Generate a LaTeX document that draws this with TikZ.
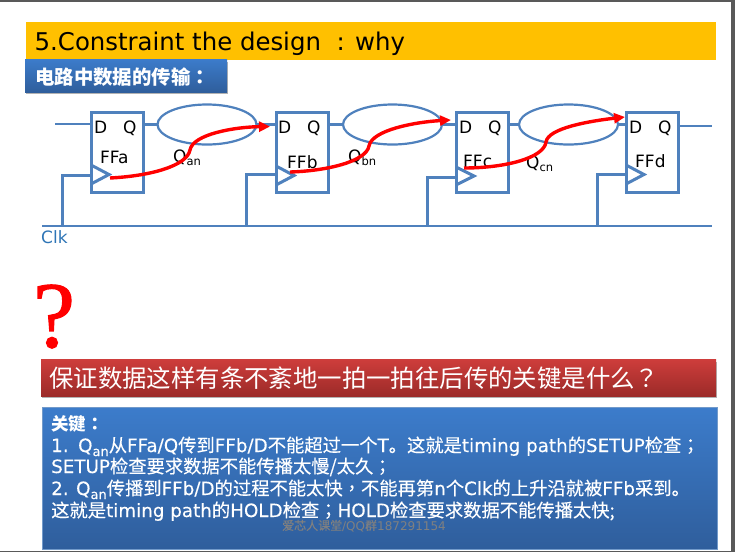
\documentclass[tikz,border=0pt]{standalone}
\usepackage{fontspec}
\setmainfont{DejaVu Sans}
\newfontfamily\cjkf{Noto Sans CJK SC}
\newfontfamily\cjkt{Noto Sans CJK TC}
\newfontfamily\cjkm[FakeBold=0.25]{Noto Sans CJK SC}
\newfontfamily\cjkmt[FakeBold=0.25]{Noto Sans CJK TC}
\newfontfamily\dvm[FakeBold=0.2]{DejaVu Sans}
\newfontfamily\serq[FakeBold=1.2]{Liberation Serif}
\newcommand{\zh}[1]{{\cjkm #1}}
\newcommand{\pu}[1]{{\cjkmt #1}}
\newcommand{\low}[1]{\raisebox{-3.5pt}{\fontsize{11.5}{12}\selectfont #1}}
\newcommand{\lowk}[1]{\raisebox{-4pt}{\fontsize{13}{13}\selectfont #1}}
\usetikzlibrary{shapes.geometric,arrows.meta,calc}
\definecolor{wire}{HTML}{4F81BD}
\definecolor{bar}{HTML}{FFC000}
\definecolor{frameg}{HTML}{595959}
\definecolor{bluet}{HTML}{3C7CCB}
\definecolor{blueb}{HTML}{2F5E9C}
\definecolor{redt}{HTML}{CE3D3B}
\definecolor{redb}{HTML}{9C2B29}
\definecolor{clktxt}{HTML}{2E75B6}
\tikzset{
 x=1pt,y=-1pt,
 ff/.style={draw=wire,line width=3pt,fill=white,minimum width=52pt,minimum height=80pt,inner sep=0pt,outer sep=0pt},
 cloud/.style={ellipse,draw=wire,line width=2.2pt,minimum width=99pt,minimum height=40pt,inner sep=0pt,outer sep=0pt},
 wirel/.style={draw=wire,line width=2.2pt},
 ckl/.style={draw=wire,line width=3pt},
 tri/.style={draw=wire,line width=3pt,line join=miter},
 redp/.style={draw=red,line width=3.4pt,-{Triangle[length=11pt,width=10pt]}},
 lbl/.style={anchor=base west,inner sep=0pt,font=\fontsize{17}{17}\selectfont},
 keyl/.style={anchor=base west,inner sep=0pt,text=white,font=\fontsize{18.3}{18}\dvm},
 band/.style={inner sep=0pt,outer sep=0pt,anchor=north west},
}
\begin{document}
\begin{tikzpicture}
\useasboundingbox (0,0) rectangle (735,552);
\fill[white] (0,0) rectangle (735,552);
\fill[frameg] (0,0) rectangle (735,2);
\fill[frameg] (731,0) rectangle (735,552);
\fill[frameg] (0,551) rectangle (735,552);
% title
\node[band,fill=bar,minimum width=690pt,minimum height=38pt] (title) at (26,22) {};
\node[lbl,font=\fontsize{24.4}{26}\selectfont] (titlet) at (34.5,50) {5.Constraint the design\ \ : why};
\fill[black!30] (26,62) rectangle (228,94);
\node[band,top color=bluet,bottom color=blueb,minimum width=202pt,minimum height=33pt] (sub) at (25,59) {};
\node[lbl,text=white,font=\fontsize{19.4}{20}\cjkf\bfseries] (subt) at (35,84) {电路中数据的传输{\cjkt\bfseries ：}};
% flip-flops
\node[ff] (ffa) at (117,152) {};
\node[ff] (ffb) at (302.5,152) {};
\node[ff] (ffc) at (482,152) {};
\node[ff] (ffd) at (652,152) {};
\node[cloud] (ea) at (207,124.5) {};
\node[cloud] (eb) at (392.5,124.5) {};
\node[cloud] (ec) at (568.5,124.5) {};
% coordinates
\coordinate (ina) at (55,124);
\coordinate (outd) at (712,126);
\coordinate (clkl) at (42,226);
\coordinate (clkr) at (712,226);
\coordinate (ta) at (62,226);
\coordinate (tb) at (246,226);
\coordinate (tc) at (427,226);
\coordinate (td) at (597,226);
\coordinate (cka) at (91,175);
\coordinate (ckb) at (276,174);
\coordinate (ckc) at (456,177);
\coordinate (ckd) at (626,174);
% wires
\draw[wirel] (ina) -- (ina -| ffa.west);
\draw[wirel] (ffa.east |- ea.west) -- (ea.west);
\draw[wirel] (ea.east) -- (ffb.west |- ea.east);
\draw[wirel] (ffb.east |- eb.west) -- (eb.west);
\draw[wirel] (eb.east) -- (ffc.west |- eb.east);
\draw[wirel] (ffc.east |- ec.west) -- (ec.west);
\draw[wirel] (ec.east) -- (ffd.west |- ec.east);
\draw[wirel] (outd -| ffd.east) -- (outd);
\draw[wirel] (clkl) -- (clkr);
\draw[ckl] (ta) |- (cka);
\draw[ckl] (tb) |- (ckb);
\draw[ckl] (tc) |- (ckc);
\draw[ckl] (td) |- (ckd);
\draw[tri] ($(cka)+(0,-10)$) -- ++(18,9.5) -- ++(-18,9.5);
\draw[tri] ($(ckb)+(0,-8)$) -- ++(18,9.5) -- ++(-18,9.5);
\draw[tri] ($(ckc)+(0,-10)$) -- ++(18,9) -- ++(-18,9);
\draw[tri] ($(ckd)+(0,-9)$) -- ++(18,9.5) -- ++(-18,9.5);
% labels
\node[lbl] (da) at (94,133) {D};  \node[lbl] (qa) at (123,133) {Q};
\node[lbl] (db) at (278,133) {D}; \node[lbl] (qb) at (307,133) {Q};
\node[lbl] (dc) at (459,133) {D}; \node[lbl] (qc) at (488,133) {Q};
\node[lbl] (dd) at (629,133) {D}; \node[lbl] (qd) at (658,133) {Q};
\node[lbl] (fa) at (100,163) {FFa};
\node[lbl] (fb) at (287,168) {FFb};
\node[lbl] (fc) at (463,167) {FFc};
\node[lbl] (fd) at (635,167) {FFd};
\node[lbl] (qan) at (173,162) {Q\low{an}};
\node[lbl] (qbn) at (348,162) {Q\low{bn}};
\node[lbl] (qcn) at (526,168) {Q\low{cn}};
\node[lbl,text=clktxt] (clk) at (41,243) {Clk};
% red paths
\coordinate (ra) at (110,178);
\coordinate (rae) at (270,126.5);
\coordinate (rb) at (290,172);
\coordinate (rbe) at (451,120);
\coordinate (rc) at (464,168);
\coordinate (rce) at (625,117);
\draw[redp] (ra) .. controls (150,176) and (187,166) .. (190,150)
  .. controls (193,134) and (235,127) .. (rae);
\draw[redp] (rb) .. controls (325,171) and (366,162) .. (369,146)
  .. controls (372,130) and (415,122) .. (rbe);
\draw[redp] (rc) .. controls (505,168) and (544,158) .. (546,142)
  .. controls (548,128) and (590,121) .. (rce);
% question mark
\node[anchor=base west,inner sep=0pt,text=red,font=\fontsize{94}{94}\serq] (qm) at (33,347) {?};
% red band
\fill[black!30] (42,362) rectangle (717,398);
\node[band,top color=redt,bottom color=redb,minimum width=675pt,minimum height=37pt] (rband) at (41,359) {};
\node[anchor=base west,inner sep=0pt,text=white,font=\fontsize{24.4}{26}\cjkf] (rbandt) at (49,387) {保证数据这样有条不紊地一拍一拍往后传的关键是什么{\cjkt ？}};
% key box
\fill[black!30] (43,409) rectangle (718,550);
\node[band,top color=bluet,bottom color=blueb,draw=wire!80!white,line width=0.8pt,minimum width=675pt,minimum height=142pt] (key) at (42,407) {};
\node[keyl,font=\fontsize{17.5}{18}\cjkf\bfseries] (k0) at (51,430) {关键{\cjkt\bfseries ：}};
\node[keyl] (k1) at (51,452) {1.\hspace{9.5pt}Q\lowk{an}\zh{从}FFa/Q\zh{传到}FFb/D\zh{不能超过一个}T\zh{。这就是}timing path\zh{的}SETUP\zh{检查}\pu{；}};
\node[keyl] (k2) at (51,473) {SETUP\zh{检查要求数据不能传播太慢/太久}\pu{；}};
\node[keyl] (k3) at (51,495) {2.\hspace{7.5pt}Q\lowk{an}\zh{传播到}FFb/D\zh{的过程不能太快}\pu{，}\zh{不能再第}n\zh{个}Clk\zh{的上升沿就被}FFb\zh{采到。}};
\node[keyl] (k4) at (51,517) {\zh{这就是}timing path\zh{的}HOLD\zh{检查}\pu{；}HOLD\zh{检查要求数据不能传播太快;}};
\node[anchor=base west,inner sep=0pt,text=gray,font=\fontsize{12}{12}\selectfont] (wm) at (282,530) {\zh{爱芯人课堂}/QQ\zh{群}187291154};
\end{tikzpicture}
\end{document}
